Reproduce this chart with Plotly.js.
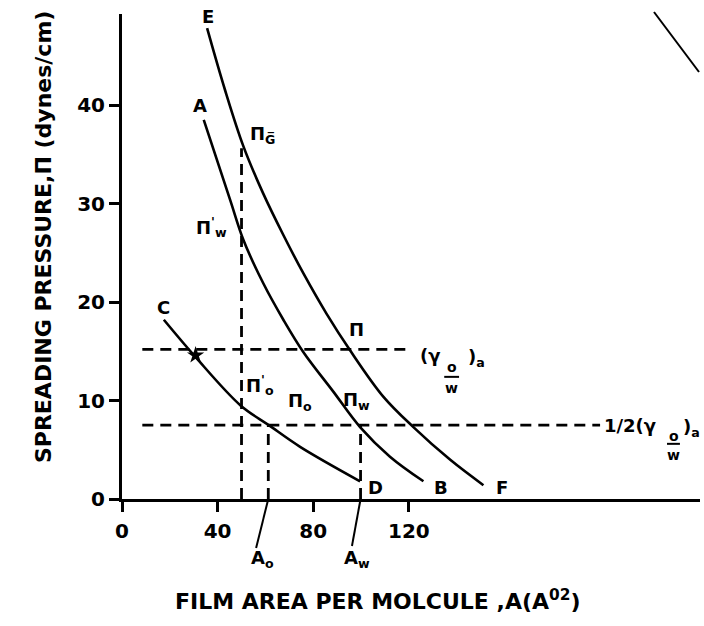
<!DOCTYPE html>
<html><head><meta charset="utf-8">
<script src="https://cdn.plot.ly/plotly-3.0.1.min.js"></script>
<style>html,body{margin:0;padding:0;background:#fff}</style>
</head><body><div id="chart" style="width:704px;height:626px"></div>
<script>
// Curve E-F (Pi)
const curveE_x = [35.6, 43.0, 50.8, 59.1, 67.5, 75.9, 85.6, 95.4, 109.3, 121.9, 137.2, 151.2];
const curveE_y = [47.8, 41.6, 35.8, 31.0, 26.8, 22.9, 18.8, 15.1, 10.4, 7.3, 4.0, 1.4];
// Curve A-B (Pi_w)
const curveA_x = [34.2, 45.2, 50.8, 59.1, 67.5, 75.9, 88.4, 99.6, 112.1, 126.1];
const curveA_y = [38.5, 30.4, 26.3, 21.9, 18.2, 14.9, 10.9, 7.3, 4.3, 1.8];
// Curve C-D (Pi_o)
const curveC_x = [17.5, 30.8, 49.6, 61.4, 74.5, 99.6];
const curveC_y = [18.2, 14.4, 9.5, 7.5, 5.3, 1.8];
// Reference levels and areas
const gammaA = 15.2;          // (gamma o/w)a
const halfGammaA = 7.5;       // 1/2 (gamma o/w)a
const gammaLineX = [8.5, 120.7];
const halfLineX = [8.5, 200.0];
const areaG = 50.0, piG = 35.6;
const areaO = 61.2;
const areaW = 99.8;
const starPoint = [30.8, 14.6];
const xTicks = [0, 40, 80, 120];
const yTicks = [0, 10, 20, 30, 40];

const FONT = 'DejaVu Sans, Liberation Sans, sans-serif';
const solid = {color: '#000', width: 2.6, shape: 'spline', smoothing: 1.0};
const dashed = {color: '#000', width: 2.8, dash: '11px,7px'};

const traces = [
  {x: curveE_x, y: curveE_y, mode: 'lines', line: solid, name: 'Π'},
  {x: curveA_x, y: curveA_y, mode: 'lines', line: solid, name: 'Πw'},
  {x: curveC_x, y: curveC_y, mode: 'lines', line: solid, name: 'Πo'},
  {x: gammaLineX, y: [gammaA, gammaA], mode: 'lines', line: dashed, name: '(γo/w)a'},
  {x: halfLineX, y: [halfGammaA, halfGammaA], mode: 'lines', line: dashed, name: '1/2(γo/w)a'},
  {x: [areaG, areaG], y: [0, piG], mode: 'lines', line: dashed, name: 'A'},
  {x: [areaO, areaO], y: [0, halfGammaA], mode: 'lines', line: dashed, name: 'Ao'},
  {x: [areaW, areaW], y: [0, halfGammaA], mode: 'lines', line: dashed, name: 'Aw'},
  {x: [starPoint[0]], y: [starPoint[1]], mode: 'markers', marker: {symbol: 'star', size: 13, color: '#000'}, name: 'star'}
];

const f = s => ({family: FONT, size: s, color: '#000', weight: 'bold'});
const lab = (x, y, text, opts) => Object.assign({x, y, xref: 'x', yref: 'y', text, showarrow: false,
  font: f(18), xanchor: 'center', yanchor: 'middle'}, opts || {});
const plab = (x, y, text, opts) => Object.assign(lab(x, y, text, opts), {xref: 'paper', yref: 'paper'});

const annotations = [
  lab(35.8, 49.0, 'E'),
  lab(32.8, 40.0, 'A'),
  lab(17.5, 19.4, 'C'),
  lab(52.5, 37.0, 'Π<sub>G̅</sub>', {xanchor: 'left'}),
  lab(30.0, 27.6, 'Π<sup>\'</sup><sub>w</sub>', {xanchor: 'left'}),
  lab(97.9, 17.2, 'Π'),
  lab(91.8, 10.0, 'Π<sub>w</sub>', {xanchor: 'left'}),
  lab(68.8, 9.8, 'Π<sub>o</sub>', {xanchor: 'left'}),
  lab(51.0, 11.6, 'Π<sup>\'</sup><sub>o</sub>', {xanchor: 'left'}),
  lab(105.9, 1.2, 'D'),
  lab(133.5, 1.2, 'B'),
  lab(159.0, 1.2, 'F'),
  // (gamma o/w)a
  lab(124.0, 14.6, '(γ', {xanchor: 'left'}),
  lab(137.9, 13.4, 'o', {font: f(14)}),
  lab(137.9, 11.3, 'w', {font: f(14)}),
  lab(143.9, 14.3, ')<sub>a</sub>', {xanchor: 'left'}),
  // 1/2 (gamma o/w)a
  lab(200.8, 7.5, '1/2(γ', {xanchor: 'left'}),
  lab(230.8, 6.4, 'o', {font: f(14)}),
  lab(230.8, 4.5, 'w', {font: f(14)}),
  lab(234.0, 7.2, ')<sub>a</sub>', {xanchor: 'left'}),
  // area labels below the axis (paper coordinates)
  plab(0.2200, -0.124, 'A<sub>o</sub>', {xanchor: 'left'}),
  plab(0.3810, -0.124, 'A<sub>w</sub>', {xanchor: 'left'}),
  // axis titles
  plab(0.0890, -0.208, 'FILM AREA PER MOLCULE ,A(A<sup>02</sup>)', {xanchor: 'left', font: f(22)}),
  plab(-0.1367, 0.540, 'SPREADING PRESSURE,Π (dynes/cm)', {textangle: -90, font: f(22)})
];

const py = p => (499 - p) / 485;   // paper y from pixel row
const px = p => (p - 122) / 578;   // paper x from pixel column
const shapes = [
  // leader lines to A_o and A_w
  {type: 'line', xref: 'x', yref: 'paper', x0: areaO, y0: 0, x1: 56.1, y1: py(548), line: {color: '#000', width: 2}},
  {type: 'line', xref: 'x', yref: 'paper', x0: areaW, y0: 0, x1: 96.2, y1: py(546), line: {color: '#000', width: 2}},
  // fraction bars
  {type: 'line', xref: 'x', yref: 'y', x0: 134.8, x1: 141.0, y0: 12.4, y1: 12.4, line: {color: '#000', width: 2}},
  {type: 'line', xref: 'x', yref: 'y', x0: 228.0, x1: 233.4, y0: 5.6, y1: 5.6, line: {color: '#000', width: 2}},
  // stroke at top right of the scan
  {type: 'line', xref: 'paper', yref: 'paper', x0: px(654), y0: py(12), x1: px(699), y1: py(72), line: {color: '#000', width: 2}}
];

const axisBase = {
  showline: true, linecolor: '#000', linewidth: 3, mirror: false,
  ticks: 'outside', ticklen: 10, tickwidth: 2.5, tickcolor: '#000',
  showgrid: false, zeroline: false, fixedrange: true,
  tickfont: f(20)
};

const layout = {
  width: 704, height: 626,
  margin: {l: 122, r: 4, t: 14, b: 127},
  paper_bgcolor: '#fff', plot_bgcolor: '#fff',
  showlegend: false,
  xaxis: Object.assign({}, axisBase, {range: [0, 241.8], tickvals: xTicks, ticktext: xTicks.map(String), ticklabelstandoff: 2}),
  yaxis: Object.assign({}, axisBase, {range: [0, 49.24], tickvals: yTicks, ticktext: yTicks.map(String), ticklabelstandoff: 0}),
  annotations, shapes
};

Plotly.newPlot('chart', traces, layout, {displayModeBar: false});
</script>
</body></html>
